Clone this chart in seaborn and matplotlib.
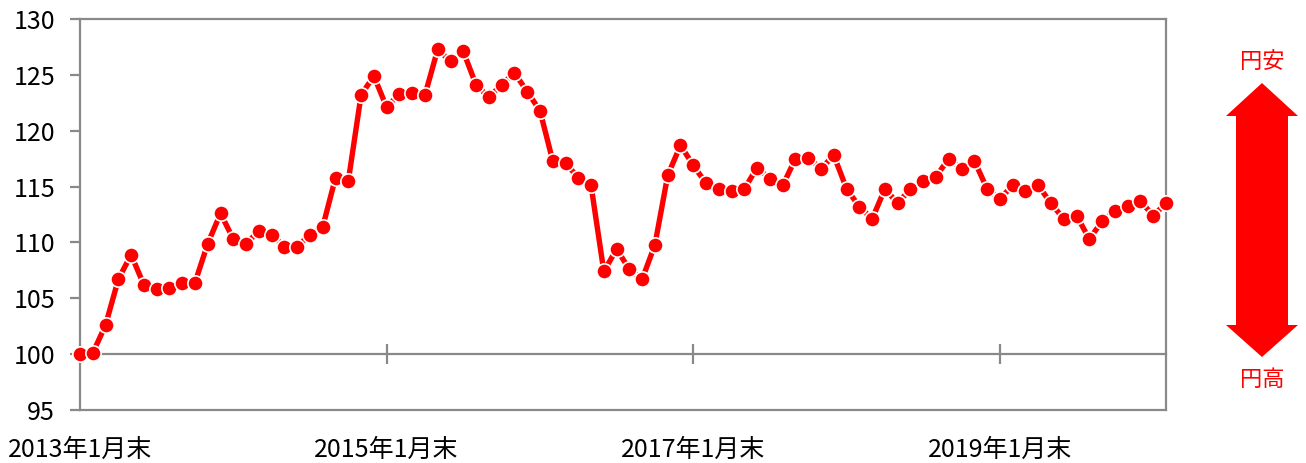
import numpy as np
import pandas as pd
import seaborn as sns
import matplotlib.pyplot as plt
from matplotlib.patches import Polygon

# Monthly index, end of month, 2013/01 = 100
months = pd.period_range('2013-01', '2020-02', freq='M')
values = [
    100.0, 100.1, 102.6, 106.7, 108.9, 106.2, 105.8, 105.9, 106.4, 106.4,
    109.9, 112.6, 110.3, 109.9, 111.0, 110.7, 109.6, 109.6, 110.7, 111.4,
    115.8, 115.5, 123.2, 124.9, 122.1, 123.3, 123.4, 123.2, 127.3, 126.2,
    127.1, 124.1, 123.0, 124.1, 125.2, 123.5, 121.8, 117.3, 117.1, 115.8,
    115.1, 107.4, 109.4, 107.6, 106.7, 109.8, 116.0, 118.7, 116.9, 115.3,
    114.8, 114.6, 114.8, 116.7, 115.7, 115.1, 117.5, 117.6, 116.6, 117.8,
    114.8, 113.2, 112.1, 114.8, 113.5, 114.8, 115.5, 115.9, 117.5, 116.6,
    117.3, 114.8, 113.9, 115.1, 114.6, 115.1, 113.5, 112.1, 112.4, 110.3,
    111.9, 112.8, 113.3, 113.7, 112.4, 113.5,
]
tick_months = ['2013-01', '2015-01', '2017-01', '2019-01']
tick_labels = ['2013年1月末', '2015年1月末', '2017年1月末', '2019年1月末']
y_ticks = [95, 100, 105, 110, 115, 120, 125, 130]
base_value = 100

RED = '#FF0000'
GRAY = '#898989'

sns.set_theme(style='white')
plt.rcParams['font.family'] = ['Noto Sans CJK JP', 'DejaVu Sans']

df = pd.DataFrame({'pos': np.arange(len(values)), 'value': values})
tick_pos = [months.get_loc(pd.Period(m, freq='M')) for m in tick_months]

fig = plt.figure(figsize=(13.06, 4.63), dpi=100)
W, H = 1306, 463
ax = fig.add_axes([80 / W, 1 - 410 / H, (1166 - 80) / W, (410 - 19) / H])

sns.lineplot(data=df, x='pos', y='value', ax=ax, color=RED, linewidth=3.9,
             marker='o', markersize=11, markeredgecolor='white',
             markeredgewidth=1.2, zorder=5)
for ln in ax.lines:
    ln.set_clip_on(False)

ax.set_xlim(0, len(values) - 1)
ax.set_ylim(y_ticks[0], y_ticks[-1])
ax.set_yticks(y_ticks)
ax.set_xticks(tick_pos)
ax.set_xticklabels(tick_labels)
ax.set_xlabel('')
ax.set_ylabel('')

for sp in ax.spines.values():
    sp.set_color(GRAY)
    sp.set_linewidth(1.6)
ax.tick_params(axis='y', direction='out', length=7, width=1.6, color=GRAY,
               labelsize=18, pad=11, left=True, labelcolor='black')
ax.tick_params(axis='x', length=0, labelsize=18, pad=19, labelcolor='black')

# base line at 100 carrying the x ticks
frac = (base_value - y_ticks[0]) / (y_ticks[-1] - y_ticks[0])
sec = ax.secondary_xaxis(frac)
sec.set_xticks(tick_pos)
sec.set_xticklabels([''] * len(tick_pos))
sec.spines['bottom'].set_color(GRAY)
sec.spines['bottom'].set_linewidth(1.6)
sec.tick_params(direction='inout', length=14, width=1.6, color=GRAY)

# double arrow on the right: 円安 / 円高
cx = 1262
pts = [(cx, 83), (cx + 36, 116), (cx + 26, 116), (cx + 26, 325), (cx + 36, 325),
       (cx, 357), (cx - 36, 325), (cx - 26, 325), (cx - 26, 116), (cx - 36, 116)]
pts = [(x / W, 1 - y / H) for x, y in pts]
fig.patches.append(Polygon(pts, closed=True, facecolor=RED, edgecolor='none',
                           transform=fig.transFigure, figure=fig))
fig.text(cx / W, 1 - 62 / H, '円安', color=RED, fontsize=16, ha='center', va='center')
fig.text(cx / W, 1 - 380 / H, '円高', color=RED, fontsize=16, ha='center', va='center')

fig.savefig('out.png', dpi=100)
